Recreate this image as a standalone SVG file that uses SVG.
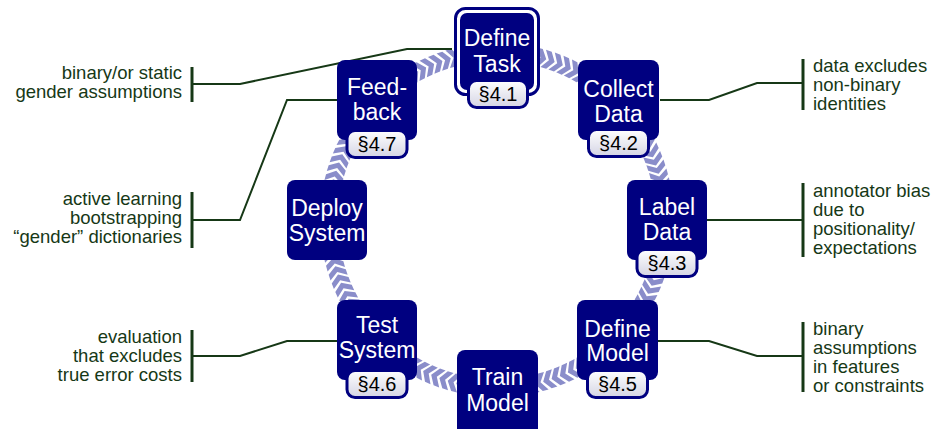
<svg xmlns="http://www.w3.org/2000/svg" xmlns:xlink="http://www.w3.org/1999/xlink" width="935" height="429" viewBox="0 0 935 429">
<defs>
<linearGradient id="bg" x1="0" y1="0" x2="0" y2="1">
<stop offset="0" stop-color="#ffffff"/>
<stop offset="1" stop-color="#d4d4e4"/>
</linearGradient>
<polygon id="ch" points="-6,-9 0,-9 6,0 0,9 -6,9 0,0" transform="translate(497,52)"/>
</defs>
<style>
.body{fill:#000080}
.bd{fill:url(#bg);stroke:#000080;stroke-width:3}
.nt{font-family:"Liberation Sans",Arial,sans-serif;font-size:23px;fill:#ffffff;text-anchor:middle}
.bt{font-family:"Liberation Sans",Arial,sans-serif;font-size:20px;fill:#000000;text-anchor:middle}
.lt{font-family:"Liberation Sans",Arial,sans-serif;font-size:18.5px;fill:#163816}
.ln{fill:none;stroke:#163816;stroke-width:2}
.bar{fill:none;stroke:#163816;stroke-width:3}
.chev use{fill:#8a8dca}
</style>
<rect width="935" height="429" fill="#ffffff"/>
<g id="chevrons" class="chev">
<use href="#ch" transform="rotate(0 497 220)"/><use href="#ch" transform="rotate(3 497 220)"/><use href="#ch" transform="rotate(6 497 220)"/><use href="#ch" transform="rotate(9 497 220)"/><use href="#ch" transform="rotate(12 497 220)"/><use href="#ch" transform="rotate(15 497 220)"/><use href="#ch" transform="rotate(18 497 220)"/><use href="#ch" transform="rotate(21 497 220)"/><use href="#ch" transform="rotate(24 497 220)"/><use href="#ch" transform="rotate(27 497 220)"/><use href="#ch" transform="rotate(30 497 220)"/><use href="#ch" transform="rotate(33 497 220)"/><use href="#ch" transform="rotate(36 497 220)"/><use href="#ch" transform="rotate(39 497 220)"/><use href="#ch" transform="rotate(42 497 220)"/>
<use href="#ch" transform="rotate(48 497 220)"/><use href="#ch" transform="rotate(51 497 220)"/><use href="#ch" transform="rotate(54 497 220)"/><use href="#ch" transform="rotate(57 497 220)"/><use href="#ch" transform="rotate(60 497 220)"/><use href="#ch" transform="rotate(63 497 220)"/><use href="#ch" transform="rotate(66 497 220)"/><use href="#ch" transform="rotate(69 497 220)"/><use href="#ch" transform="rotate(72 497 220)"/><use href="#ch" transform="rotate(75 497 220)"/><use href="#ch" transform="rotate(78 497 220)"/><use href="#ch" transform="rotate(81 497 220)"/><use href="#ch" transform="rotate(84 497 220)"/>
<use href="#ch" transform="rotate(96 497 220)"/><use href="#ch" transform="rotate(99 497 220)"/><use href="#ch" transform="rotate(102 497 220)"/><use href="#ch" transform="rotate(105 497 220)"/><use href="#ch" transform="rotate(108 497 220)"/><use href="#ch" transform="rotate(111 497 220)"/><use href="#ch" transform="rotate(114 497 220)"/><use href="#ch" transform="rotate(117 497 220)"/><use href="#ch" transform="rotate(120 497 220)"/><use href="#ch" transform="rotate(123 497 220)"/><use href="#ch" transform="rotate(126 497 220)"/><use href="#ch" transform="rotate(129 497 220)"/>
<use href="#ch" transform="rotate(141 497 220)"/><use href="#ch" transform="rotate(144 497 220)"/><use href="#ch" transform="rotate(147 497 220)"/><use href="#ch" transform="rotate(150 497 220)"/><use href="#ch" transform="rotate(153 497 220)"/><use href="#ch" transform="rotate(156 497 220)"/><use href="#ch" transform="rotate(159 497 220)"/><use href="#ch" transform="rotate(162 497 220)"/><use href="#ch" transform="rotate(165 497 220)"/><use href="#ch" transform="rotate(168 497 220)"/><use href="#ch" transform="rotate(171 497 220)"/>
<use href="#ch" transform="rotate(189 497 220)"/><use href="#ch" transform="rotate(192 497 220)"/><use href="#ch" transform="rotate(195 497 220)"/><use href="#ch" transform="rotate(198 497 220)"/><use href="#ch" transform="rotate(201 497 220)"/><use href="#ch" transform="rotate(204 497 220)"/><use href="#ch" transform="rotate(207 497 220)"/><use href="#ch" transform="rotate(210 497 220)"/><use href="#ch" transform="rotate(213 497 220)"/><use href="#ch" transform="rotate(216 497 220)"/><use href="#ch" transform="rotate(219 497 220)"/>
<use href="#ch" transform="rotate(231 497 220)"/><use href="#ch" transform="rotate(234 497 220)"/><use href="#ch" transform="rotate(237 497 220)"/><use href="#ch" transform="rotate(240 497 220)"/><use href="#ch" transform="rotate(243 497 220)"/><use href="#ch" transform="rotate(246 497 220)"/><use href="#ch" transform="rotate(249 497 220)"/><use href="#ch" transform="rotate(252 497 220)"/><use href="#ch" transform="rotate(255 497 220)"/><use href="#ch" transform="rotate(258 497 220)"/><use href="#ch" transform="rotate(261 497 220)"/>
<use href="#ch" transform="rotate(276 497 220)"/><use href="#ch" transform="rotate(279 497 220)"/><use href="#ch" transform="rotate(282 497 220)"/><use href="#ch" transform="rotate(285 497 220)"/><use href="#ch" transform="rotate(288 497 220)"/><use href="#ch" transform="rotate(291 497 220)"/><use href="#ch" transform="rotate(294 497 220)"/><use href="#ch" transform="rotate(297 497 220)"/><use href="#ch" transform="rotate(300 497 220)"/><use href="#ch" transform="rotate(303 497 220)"/><use href="#ch" transform="rotate(306 497 220)"/><use href="#ch" transform="rotate(309 497 220)"/>
<use href="#ch" transform="rotate(321 497 220)"/><use href="#ch" transform="rotate(324 497 220)"/><use href="#ch" transform="rotate(327 497 220)"/><use href="#ch" transform="rotate(330 497 220)"/><use href="#ch" transform="rotate(333 497 220)"/><use href="#ch" transform="rotate(336 497 220)"/><use href="#ch" transform="rotate(339 497 220)"/><use href="#ch" transform="rotate(342 497 220)"/><use href="#ch" transform="rotate(345 497 220)"/><use href="#ch" transform="rotate(348 497 220)"/><use href="#ch" transform="rotate(351 497 220)"/><use href="#ch" transform="rotate(354 497 220)"/><use href="#ch" transform="rotate(357 497 220)"/>
</g>
<g id="connectors">
<polyline class="ln" points="192,84 240,84 407,49 452,49"/>
<polyline class="ln" points="192,220 240,220 287,100 337,100"/>
<polyline class="ln" points="192,356 240,356 287,341 337,341"/>
<polyline class="ln" points="660,100 709,100 757,83 803,83"/>
<polyline class="ln" points="707,220 803,220"/>
<polyline class="ln" points="658,341 709,341 757,356 803,356"/>
<line class="bar" x1="192" y1="67" x2="192" y2="102"/>
<line class="bar" x1="192" y1="192" x2="192" y2="248"/>
<line class="bar" x1="192" y1="330" x2="192" y2="382"/>
<line class="bar" x1="803" y1="59" x2="803" y2="110"/>
<line class="bar" x1="803" y1="183" x2="803" y2="257"/>
<line class="bar" x1="803" y1="322" x2="803" y2="392"/>
</g>
<g id="notes">
<text class="lt" text-anchor="end" x="182" y="79">binary/or static</text>
<text class="lt" text-anchor="end" x="182" y="98">gender assumptions</text>
<text class="lt" text-anchor="end" x="182" y="205">active learning</text>
<text class="lt" text-anchor="end" x="182" y="224">bootstrapping</text>
<text class="lt" text-anchor="end" x="182" y="243">“gender” dictionaries</text>
<text class="lt" text-anchor="end" x="182" y="343">evaluation</text>
<text class="lt" text-anchor="end" x="182" y="362">that excludes</text>
<text class="lt" text-anchor="end" x="182" y="381">true error costs</text>
<text class="lt" x="813" y="72">data excludes</text>
<text class="lt" x="813" y="91">non-binary</text>
<text class="lt" x="813" y="110">identities</text>
<text class="lt" x="813" y="197">annotator bias</text>
<text class="lt" x="813" y="216">due to</text>
<text class="lt" x="813" y="235">positionality/</text>
<text class="lt" x="813" y="254">expectations</text>
<text class="lt" x="813" y="335">binary</text>
<text class="lt" x="813" y="354">assumptions</text>
<text class="lt" x="813" y="373">in features</text>
<text class="lt" x="813" y="392">or constraints</text>
</g>
<g id="define-task">
<rect x="455.5" y="8.5" width="83" height="86" rx="10" fill="#ffffff" stroke="#000080" stroke-width="3"/>
<rect x="460" y="13" width="74" height="77" rx="7" class="body"/>
<text class="nt" x="497" y="46">Define</text>
<text class="nt" x="497" y="72">Task</text>
<rect x="468.5" y="80.5" width="59" height="27" rx="8" class="bd"/>
<text class="bt" x="498" y="101">§4.1</text>
</g>
<g id="collect-data">
<rect x="578" y="60" width="81" height="80" rx="8" class="body"/>
<text class="nt" x="618.5" y="97">Collect</text>
<text class="nt" x="618.5" y="122">Data</text>
<rect x="588.5" y="129.5" width="60" height="27" rx="8" class="bd"/>
<text class="bt" x="618.5" y="150">§4.2</text>
</g>
<g id="label-data">
<rect x="627" y="180" width="80" height="80" rx="8" class="body"/>
<text class="nt" x="667" y="215">Label</text>
<text class="nt" x="667" y="240">Data</text>
<rect x="637" y="249.5" width="60" height="27" rx="8" class="bd"/>
<text class="bt" x="667" y="270">§4.3</text>
</g>
<g id="define-model">
<rect x="577" y="300" width="81" height="80" rx="8" class="body"/>
<text class="nt" x="617.5" y="337">Define</text>
<text class="nt" x="617.5" y="361">Model</text>
<rect x="587.5" y="370.5" width="60" height="27" rx="8" class="bd"/>
<text class="bt" x="617.5" y="391">§4.5</text>
</g>
<g id="train-model">
<rect x="457" y="350" width="81" height="90" rx="8" class="body"/>
<text class="nt" x="497.5" y="385">Train</text>
<text class="nt" x="497.5" y="411">Model</text>
</g>
<g id="test-system">
<rect x="337" y="300" width="80" height="80" rx="8" class="body"/>
<text class="nt" x="377" y="333">Test</text>
<text class="nt" x="377" y="358">System</text>
<rect x="347" y="370.5" width="60" height="27" rx="8" class="bd"/>
<text class="bt" x="377" y="391">§4.6</text>
</g>
<g id="deploy-system">
<rect x="287" y="180" width="80" height="80" rx="8" class="body"/>
<text class="nt" x="327" y="216">Deploy</text>
<text class="nt" x="327" y="241">System</text>
</g>
<g id="feedback">
<rect x="337" y="60" width="80" height="80" rx="8" class="body"/>
<text class="nt" x="377" y="95">Feed-</text>
<text class="nt" x="377" y="120">back</text>
<rect x="347" y="130.5" width="60" height="27" rx="8" class="bd"/>
<text class="bt" x="377" y="151">§4.7</text>
</g>
</svg>
